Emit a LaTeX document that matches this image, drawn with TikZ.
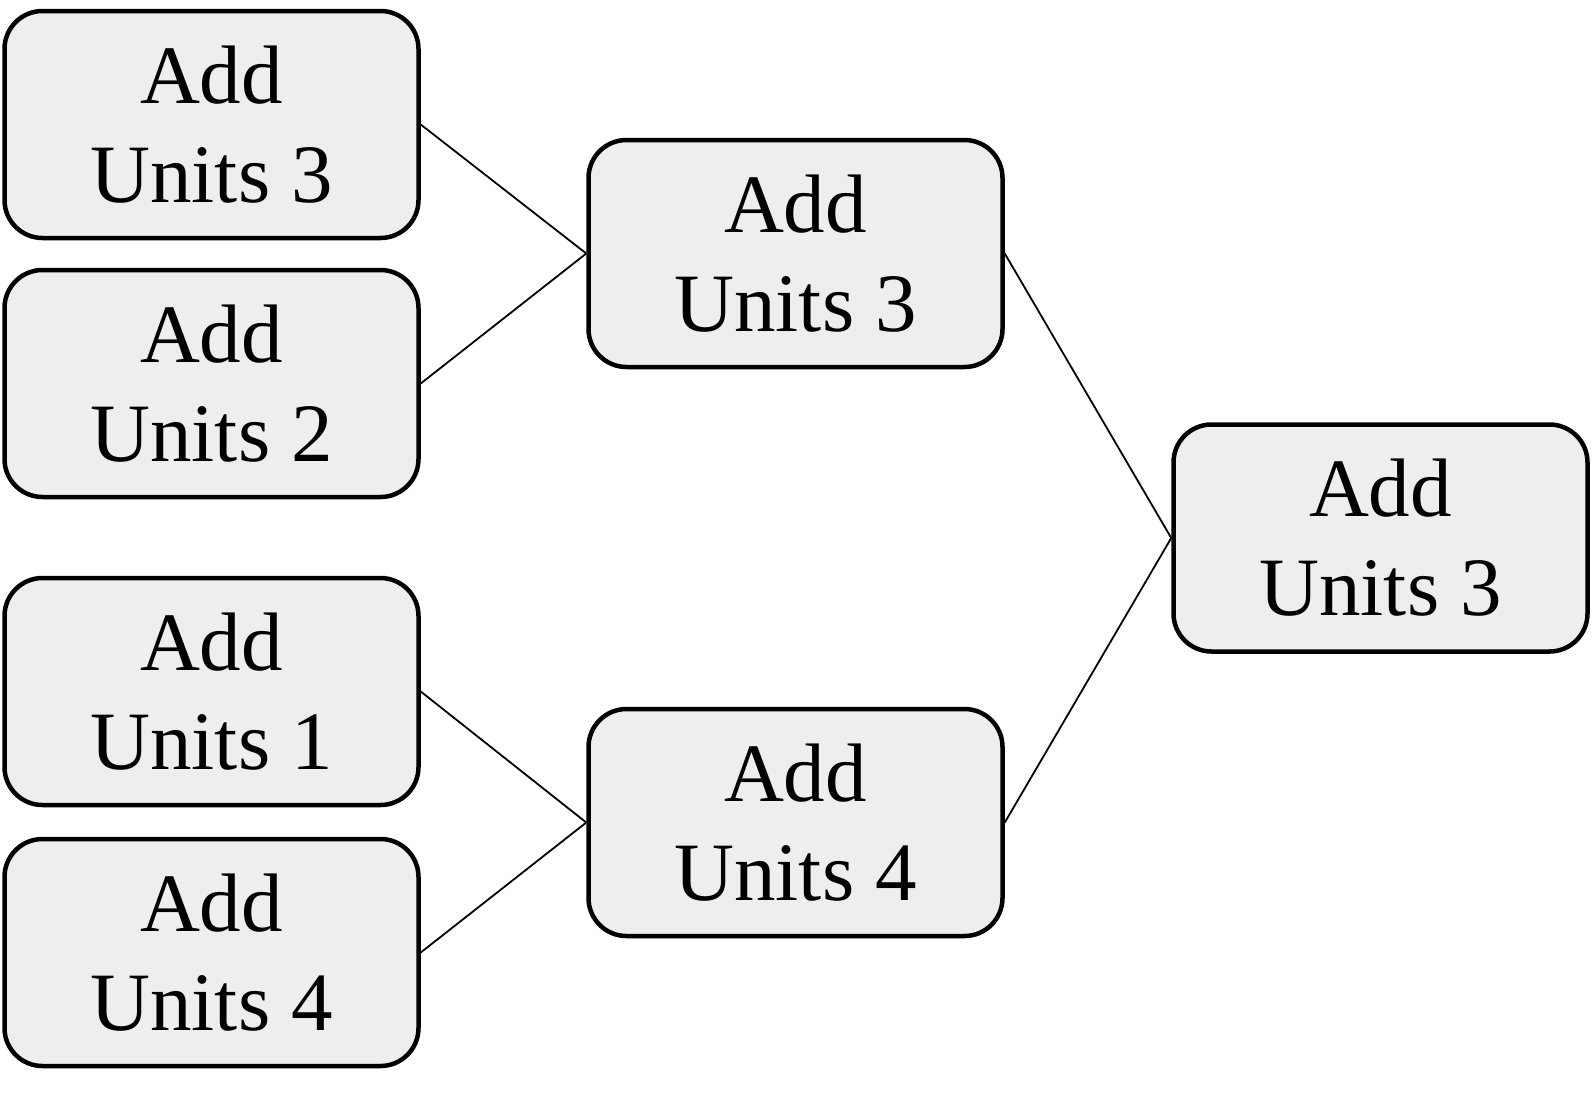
\documentclass[tikz,border=0pt]{standalone}
\usepackage{fontspec}
\setmainfont{Liberation Serif}
\definecolor{boxfill}{HTML}{EEEEEE}
\tikzset{
  unitbox/.style={draw=black, line width=4.5pt, fill=boxfill, rounded corners=38pt,
    minimum width=414pt, minimum height=227pt, inner sep=0pt, align=center,
    font=\fontsize{83}{99}\selectfont},
  link/.style={draw=black, line width=1.8pt}
}
\begin{document}
\begin{tikzpicture}[x=1pt,y=1pt]
\useasboundingbox (0,0) rectangle (1592,-1101);
\node[unitbox] (a) at (211.5,-124.5) {Add\\Units 3};
\node[unitbox] (b) at (211.5,-383.5) {Add\\Units 2};
\node[unitbox] (c) at (211.5,-691.5) {Add\\Units 1};
\node[unitbox] (d) at (211.5,-952.5) {Add\\Units 4};
\node[unitbox] (e) at (795.5,-253.5) {Add\\Units 3};
\node[unitbox] (f) at (795.5,-822.5) {Add\\Units 4};
\node[unitbox] (g) at (1380.5,-538) {Add\\Units 3};
\draw[link] (a.east) -- (e.west);
\draw[link] (b.east) -- (e.west);
\draw[link] (c.east) -- (f.west);
\draw[link] (d.east) -- (f.west);
\draw[link] (e.east) -- (g.west);
\draw[link] (f.east) -- (g.west);
\end{tikzpicture}
\end{document}
